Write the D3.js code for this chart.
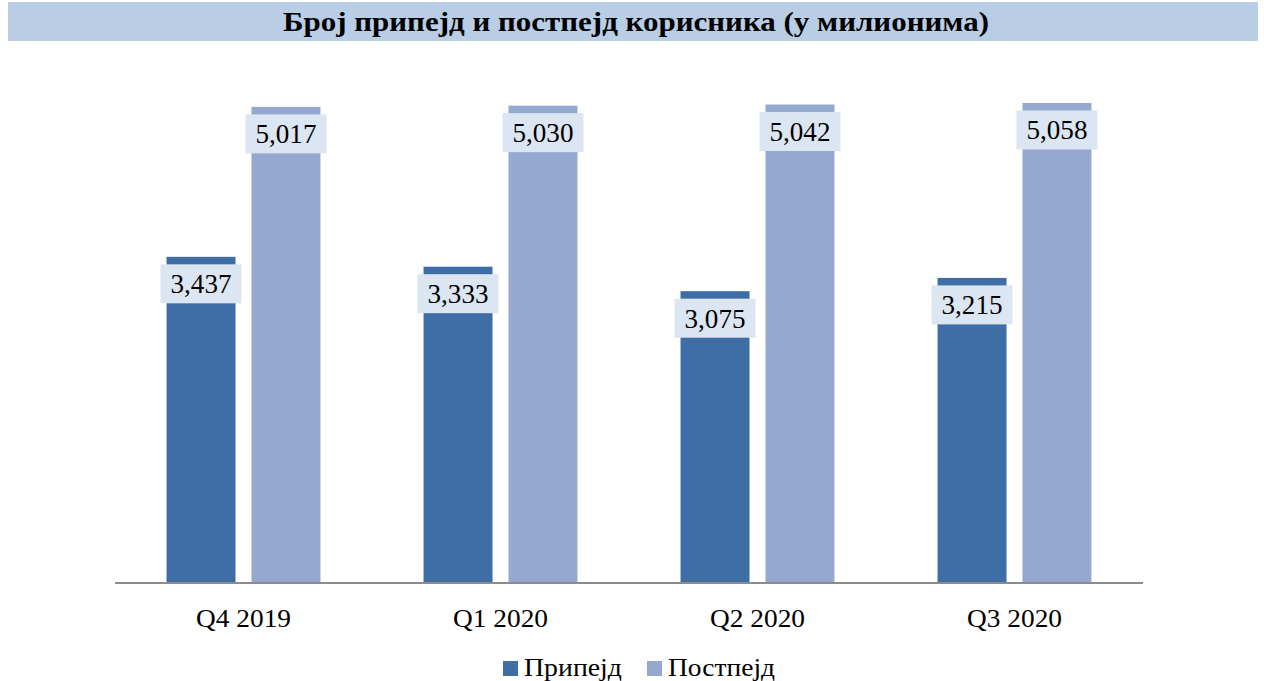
<!DOCTYPE html>
<html><head><meta charset="utf-8">
<script src="https://cdn.jsdelivr.net/npm/d3@7"></script>
<style>body{margin:0;background:#fff}svg{display:block}</style>
</head><body><svg id="c" width="1264" height="681"></svg>
<script>
const title = "Број припејд и постпејд корисника (у милионима)";
const categories = ["Q4 2019", "Q1 2020", "Q2 2020", "Q3 2020"];
const seriesNames = ["Припејд", "Постпејд"];
const prepaid = [3.437, 3.333, 3.075, 3.215];
const postpaid = [5.017, 5.030, 5.042, 5.058];
const colors = ["#3f6ea6", "#95a9d0"];
const fmt = v => d3.format(".3f")(v).replace(".", ",");

const svg = d3.select("#c");
const serif = "'Liberation Serif', 'DejaVu Serif', serif";

// title band
svg.append("rect").attr("x", 8).attr("y", 2).attr("width", 1250).attr("height", 39).attr("fill", "#b9cde5");
svg.append("text").attr("x", 636).attr("y", 31).attr("text-anchor", "middle")
  .attr("font-family", serif).attr("font-weight", "bold").attr("font-size", 27)
  .attr("textLength", 706).attr("lengthAdjust", "spacingAndGlyphs")
  .attr("fill", "#000").text(title);

const x0 = d3.scaleBand().domain(categories).range([115, 1143]).paddingInner(0.401).paddingOuter(0.2005);
const x1 = d3.scaleBand().domain(seriesNames).range([0, x0.bandwidth()]).paddingInner(0.188).paddingOuter(0);
const y = d3.scaleLinear().domain([0, 6]).range([583, 583 - 6 * 94.9]);

const rows = categories.map((c, i) => ({cat: c, vals: [prepaid[i], postpaid[i]]}));

const g = svg.append("g");
const grp = g.selectAll("g.grp").data(rows).join("g").attr("transform", d => `translate(${x0(d.cat)},0)`);
grp.selectAll("rect").data(d => d.vals.map((v, j) => ({s: seriesNames[j], v, j})))
  .join("rect")
  .attr("x", d => x1(d.s)).attr("width", x1.bandwidth())
  .attr("y", d => y(d.v)).attr("height", d => y(0) - y(d.v))
  .attr("fill", d => colors[d.j]);

// axis
const ax = svg.append("g").attr("transform", "translate(0,583)").call(d3.axisBottom(x0).tickSize(0).tickPadding(22));
ax.select(".domain").attr("stroke", "#8c8c8c").attr("stroke-width", 2).attr("d", "M115,0H1143");
ax.selectAll(".tick text").attr("y", 44).attr("dy", null)
  .attr("font-family", serif).attr("font-size", 26).attr("fill", "#000")
  .attr("textLength", 95).attr("lengthAdjust", "spacingAndGlyphs");

// labels
const lbl = grp.selectAll("g.lbl").data(d => d.vals.map((v, j) => ({s: seriesNames[j], v, j})))
  .join("g").attr("class", "lbl")
  .attr("transform", d => `translate(${x1(d.s) + x1.bandwidth() / 2},${y(d.v) + 27})`);
lbl.append("rect").attr("x", -40.5).attr("y", -19.5).attr("width", 81).attr("height", 39).attr("fill", "#dce6f2");
lbl.append("text").attr("text-anchor", "middle").attr("y", 9.5)
  .attr("font-family", serif).attr("font-size", 27).attr("fill", "#000")
  .attr("textLength", 61).attr("lengthAdjust", "spacingAndGlyphs").text(d => fmt(d.v));

// legend
const legX = [503, 647];
const legW = [98, 107];
const leg = svg.append("g").selectAll("g").data(seriesNames).join("g")
  .attr("transform", (d, i) => `translate(${legX[i]},661)`);
leg.append("rect").attr("width", 15).attr("height", 15).attr("fill", (d, i) => colors[i]);
leg.append("text").attr("x", 21).attr("y", 15).attr("font-family", serif).attr("font-size", 26).attr("fill", "#000")
  .attr("textLength", (d, i) => legW[i]).attr("lengthAdjust", "spacingAndGlyphs").text(d => d);
</script></body></html>
